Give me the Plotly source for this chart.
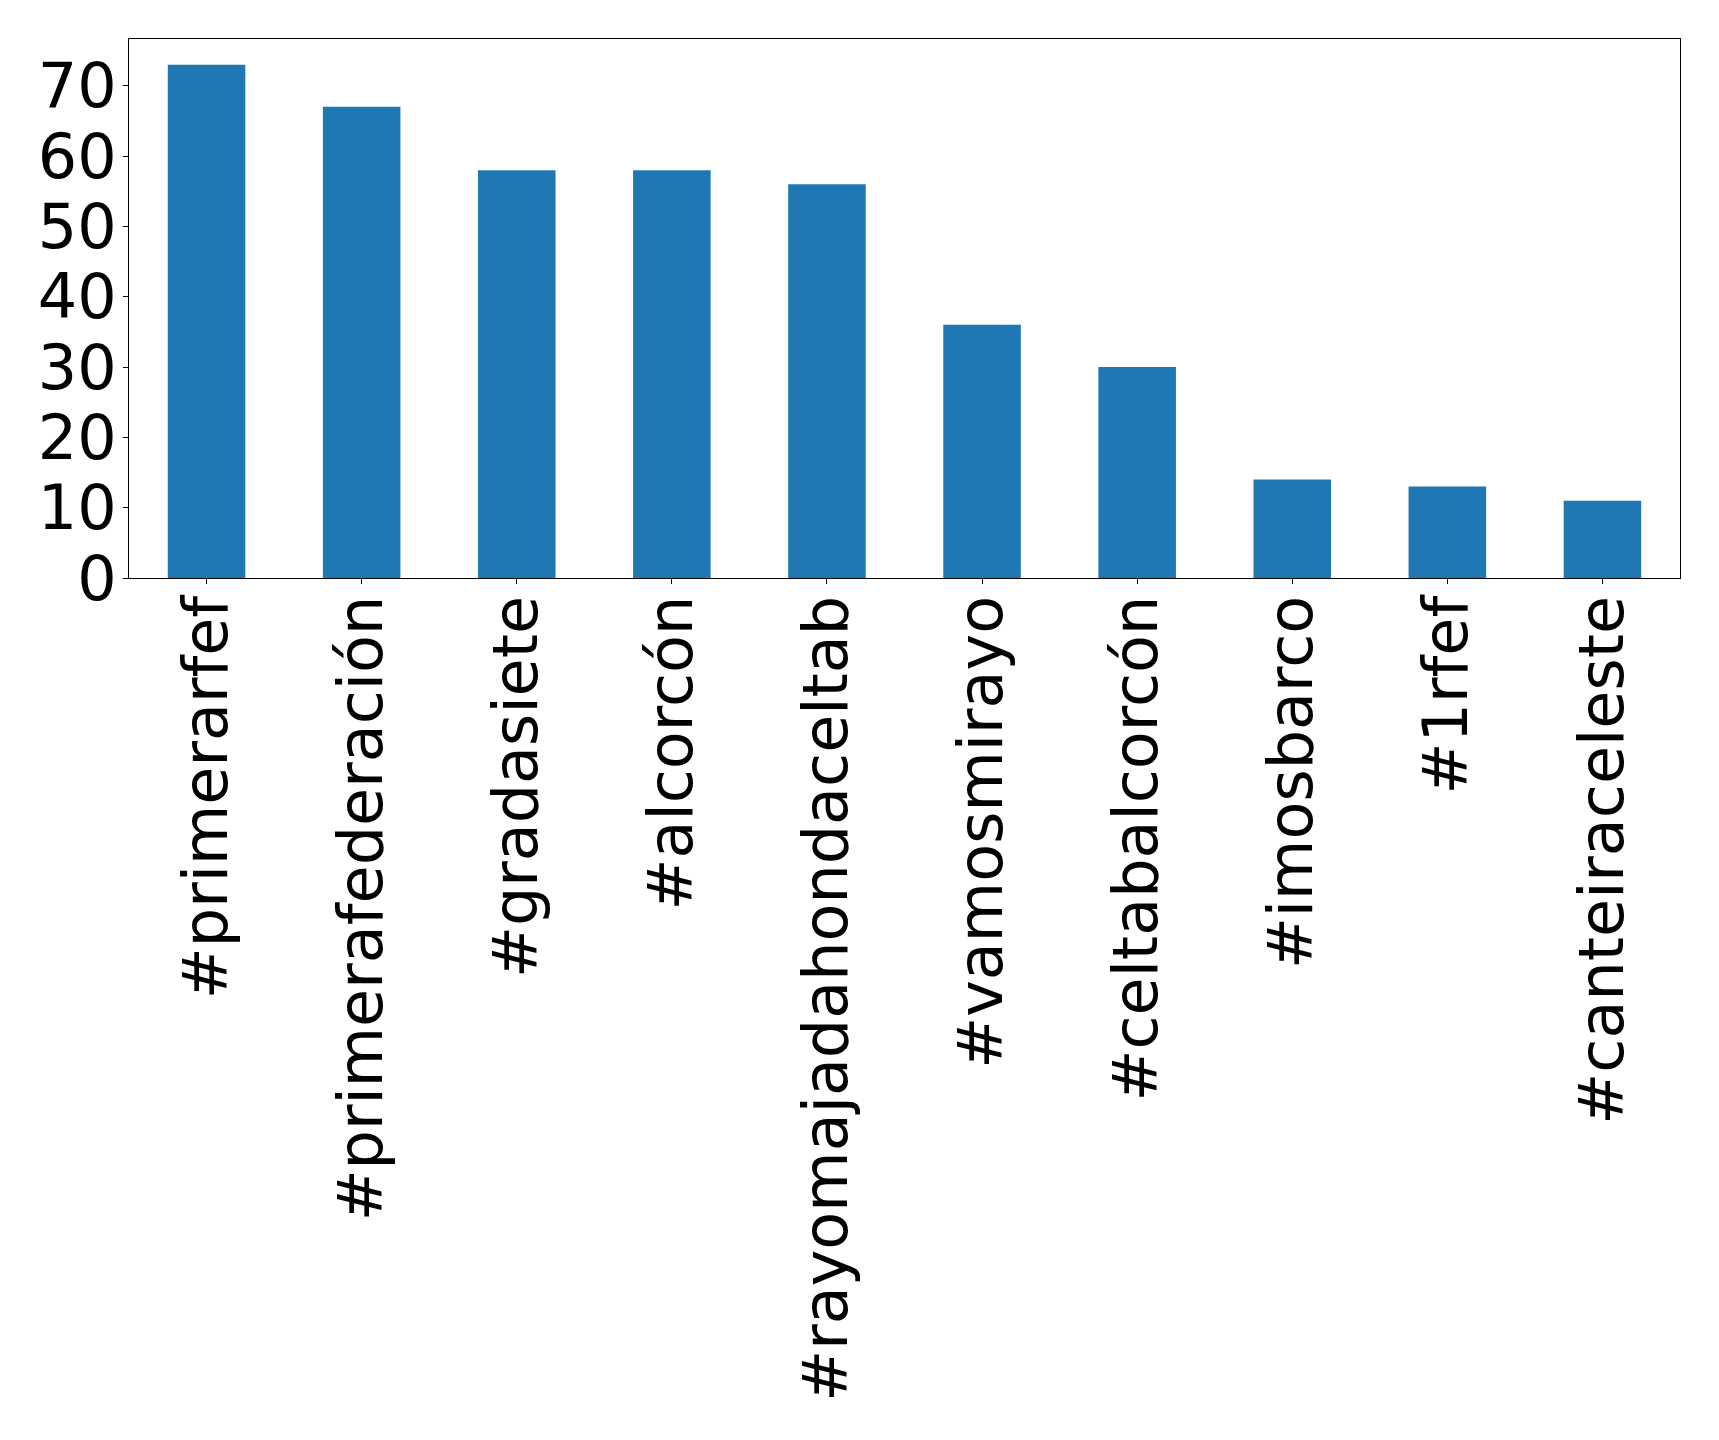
import plotly.graph_objects as go

categories = ["#primerarfef", "#primerafederación", "#gradasiete", "#alcorcón",
              "#rayomajadahondaceltab", "#vamosmirayo", "#celtabalcorcón",
              "#imosbarco", "#1rfef", "#canteiraceleste"]
counts = [73, 67, 58, 58, 56, 36, 30, 14, 13, 11]
y_ticks = [0, 10, 20, 30, 40, 50, 60, 70]

fig = go.Figure(go.Bar(x=list(range(len(categories))), y=counts,
                       width=0.5, marker=dict(color="#1f77b4", line=dict(width=0))))

font = dict(family="DejaVu Sans", size=62, color="black")
fig.update_layout(
    width=1711, height=1432,
    margin=dict(l=121, r=39, t=31, b=862, autoexpand=False),
    paper_bgcolor="white", plot_bgcolor="white",
    showlegend=False,
    font=font,
)
fig.update_xaxes(
    range=[-0.5, len(categories) - 0.5],
    tickmode="array", tickvals=list(range(len(categories))), ticktext=categories,
    tickangle=-90, ticks="outside", ticklen=5, tickwidth=1, tickcolor="black",
    showline=True, linecolor="black", linewidth=1, mirror=True,
    showgrid=False, zeroline=False, tickfont=font, ticklabelstandoff=-13,
    automargin=False,
)
fig.update_yaxes(
    range=[0, max(counts) * 1.05],
    tickmode="array", tickvals=y_ticks,
    ticks="outside", ticklen=5, tickwidth=1, tickcolor="black",
    showline=True, linecolor="black", linewidth=1, mirror=True,
    showgrid=False, zeroline=False, tickfont=font, ticklabelstandoff=-6,
    automargin=False,
)
fig.write_html("out.html")
